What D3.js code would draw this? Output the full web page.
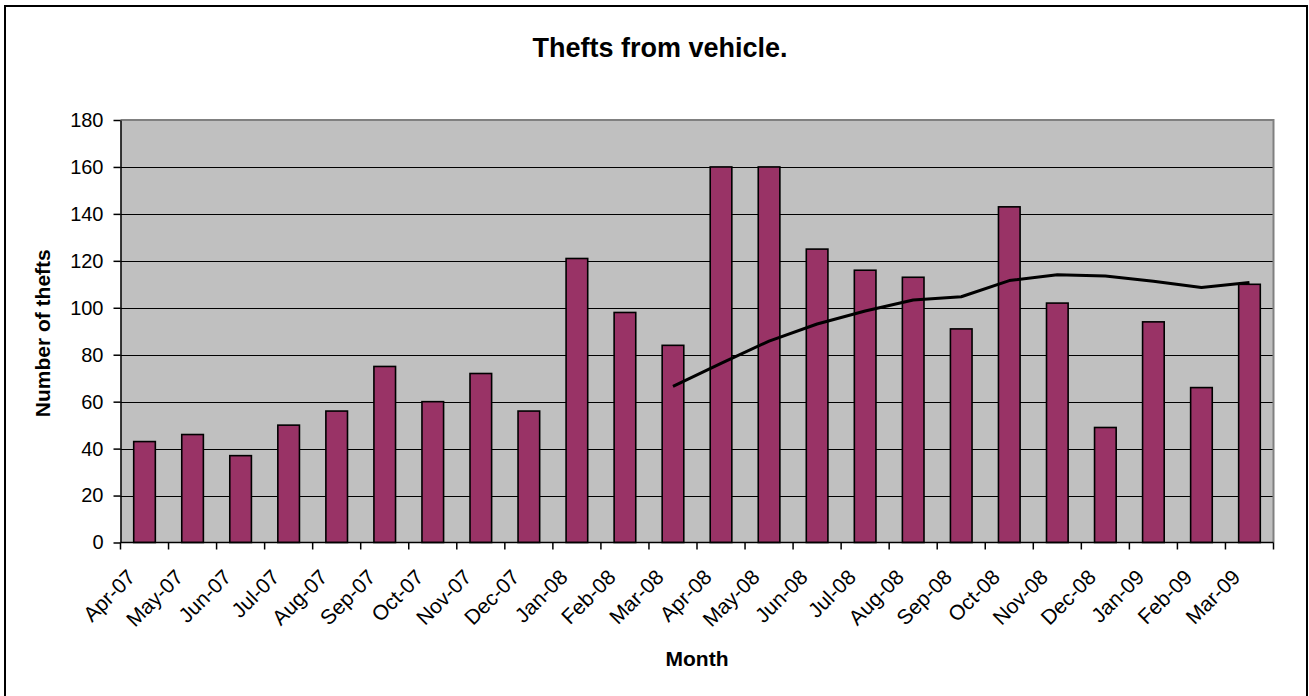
<!DOCTYPE html>
<html>
<head>
<meta charset="utf-8">
<script src="https://cdn.jsdelivr.net/npm/d3@7"></script>
<style>
  html, body { margin: 0; padding: 0; background: #fff; }
  svg { display: block; font-family: "Liberation Sans", Arial, sans-serif; }
</style>
</head>
<body>
<svg id="chart" width="1309" height="696"></svg>
<script>
const months = ["Apr-07","May-07","Jun-07","Jul-07","Aug-07","Sep-07","Oct-07","Nov-07","Dec-07",
  "Jan-08","Feb-08","Mar-08","Apr-08","May-08","Jun-08","Jul-08","Aug-08","Sep-08","Oct-08",
  "Nov-08","Dec-08","Jan-09","Feb-09","Mar-09"];
const thefts = [43, 46, 37, 50, 56, 75, 60, 72, 56, 121, 98, 84, 160, 160, 125, 116, 113, 91, 143, 102, 49, 94, 66, 110];
// 12-month moving average trend line, starting at Mar-08
const trendMonths = ["Mar-08","Apr-08","May-08","Jun-08","Jul-08","Aug-08","Sep-08","Oct-08","Nov-08","Dec-08","Jan-09","Feb-09","Mar-09"];
const trendValues = [66.5, 76.3, 85.8, 93.1, 98.6, 103.3, 104.7, 111.6, 114.1, 113.5, 111.3, 108.6, 110.8];
const yTicks = [0, 20, 40, 60, 80, 100, 120, 140, 160, 180];

const W = 1309, H = 696;
const plot = { left: 120.5, right: 1273.5, top: 120, bottom: 542.5 };

const svg = d3.select("#chart");
svg.append("rect").attr("x", 0).attr("y", 0).attr("width", W).attr("height", H).attr("fill", "#fff");
// outer chart border
svg.append("rect").attr("x", 5).attr("y", 6).attr("width", 1302).attr("height", 700)
  .attr("fill", "none").attr("stroke", "#000").attr("stroke-width", 2);

const x = d3.scaleBand().domain(months).range([plot.left, plot.right])
  .paddingInner(0.55).paddingOuter(0.275);
const step = x.step();
const y = d3.scaleLinear().domain([0, 180]).range([plot.bottom, plot.top]);

// plot background
svg.append("rect").attr("x", plot.left).attr("y", plot.top)
  .attr("width", plot.right - plot.left).attr("height", plot.bottom - plot.top)
  .attr("fill", "#c0c0c0");

// gridlines
svg.append("g").selectAll("line").data(yTicks.filter(d => d > 0 && d < 180)).join("line")
  .attr("x1", plot.left).attr("x2", plot.right)
  .attr("y1", d => Math.round(y(d)) + 0.5).attr("y2", d => Math.round(y(d)) + 0.5)
  .attr("stroke", "#000").attr("stroke-width", 1);

// plot border top/right
svg.append("path")
  .attr("d", `M${plot.left},${plot.top}H${plot.right}V${plot.bottom}`)
  .attr("fill", "none").attr("stroke", "#808080").attr("stroke-width", 2);

// bars
svg.append("g").selectAll("rect").data(months).join("rect")
  .attr("x", d => x(d)).attr("width", x.bandwidth())
  .attr("y", (d, i) => y(thefts[i])).attr("height", (d, i) => y(0) - y(thefts[i]))
  .attr("fill", "#993366").attr("stroke", "#000").attr("stroke-width", 1.6);

// trend line
const line = d3.line().x(d => x(d[0]) + x.bandwidth() / 2).y(d => y(d[1]));
svg.append("path").datum(trendMonths.map((m, i) => [m, trendValues[i]]))
  .attr("d", line).attr("fill", "none").attr("stroke", "#000").attr("stroke-width", 3)
  .attr("stroke-linejoin", "round");

// y axis
const yAxis = svg.append("g").attr("transform", `translate(${plot.left},0)`)
  .call(d3.axisLeft(y).tickValues(yTicks).tickSize(7).tickSizeOuter(0).tickPadding(10));
yAxis.select(".domain").attr("stroke", "#000").attr("stroke-width", 1.5);
yAxis.selectAll(".tick line").attr("stroke", "#000").attr("stroke-width", 1.5);
yAxis.selectAll(".tick text").attr("font-size", 20).attr("fill", "#000")
  .attr("font-family", "Liberation Sans, Arial, sans-serif");

// x axis
svg.append("line").attr("x1", plot.left).attr("x2", plot.right)
  .attr("y1", plot.bottom).attr("y2", plot.bottom).attr("stroke", "#000").attr("stroke-width", 1.5);
const boundaries = d3.range(months.length + 1);
svg.append("g").selectAll("line").data(boundaries).join("line")
  .attr("x1", i => plot.left + i * step).attr("x2", i => plot.left + i * step)
  .attr("y1", plot.bottom).attr("y2", plot.bottom + 7)
  .attr("stroke", "#000").attr("stroke-width", 1.5);

svg.append("g").selectAll("text").data(months).join("text")
  .attr("transform", d => `translate(${x(d) + x.bandwidth() / 2 - 8},${plot.bottom + 36}) rotate(-45)`)
  .attr("text-anchor", "end").attr("font-size", 21).attr("fill", "#000")
  .text(d => d);

// titles
svg.append("text").attr("x", 660).attr("y", 57).attr("text-anchor", "middle")
  .attr("font-size", 27).attr("font-weight", "bold").text("Thefts from vehicle.");
svg.append("text").attr("x", (plot.left + plot.right) / 2).attr("y", 666).attr("text-anchor", "middle")
  .attr("font-size", 21).attr("font-weight", "bold").text("Month");
svg.append("text")
  .attr("transform", `translate(50,${(plot.top + plot.bottom) / 2 + 2}) rotate(-90)`)
  .attr("text-anchor", "middle").attr("font-size", 21).attr("font-weight", "bold").text("Number of thefts");
</script>
</body>
</html>
